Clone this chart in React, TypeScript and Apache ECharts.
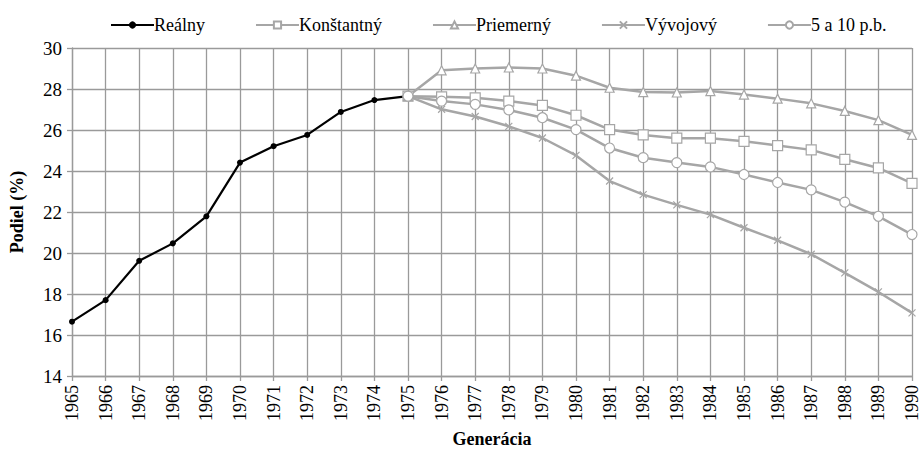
import React, { useEffect, useRef } from "react";
import * as echarts from "echarts";

const years = ["1965","1966","1967","1968","1969","1970","1971","1972","1973","1974","1975","1976","1977","1978","1979","1980","1981","1982","1983","1984","1985","1986","1987","1988","1989","1990"];

const realny = [16.65, 17.7, 19.62, 20.47, 21.79, 24.41, 25.21, 25.76, 26.88, 27.46, 27.65, null, null, null, null, null, null, null, null, null, null, null, null, null, null, null];
const konstantny = [null, null, null, null, null, null, null, null, null, null, 27.65, 27.62, 27.57, 27.41, 27.2, 26.72, 26.02, 25.76, 25.6, 25.6, 25.45, 25.24, 25.03, 24.57, 24.15, 23.4];
const priemerny = [null, null, null, null, null, null, null, null, null, null, 27.65, 28.91, 29.0, 29.05, 29.0, 28.65, 28.06, 27.85, 27.83, 27.9, 27.73, 27.53, 27.3, 26.93, 26.48, 25.76];
const vyvojovy = [null, null, null, null, null, null, null, null, null, null, 27.65, 27.01, 26.66, 26.18, 25.61, 24.76, 23.51, 22.85, 22.35, 21.87, 21.23, 20.62, 19.94, 19.03, 18.1, 17.08];
const pb510 = [null, null, null, null, null, null, null, null, null, null, 27.65, 27.41, 27.25, 26.98, 26.6, 26.02, 25.12, 24.65, 24.41, 24.2, 23.83, 23.44, 23.08, 22.48, 21.79, 20.9];

const seriesNames = ["Reálny", "Konštantný", "Priemerný", "Vývojový", "5 a 10 p.b."];

const FONT = "'Liberation Serif', 'Times New Roman', serif";
const GRAY = "#a6a6a6";
const GRID = "#9a9a9a";

export default function App() {
  const ref = useRef<HTMLDivElement>(null);
  useEffect(() => {
    document.body.style.margin = "0";
    if (!ref.current) return;
    const chart = echarts.init(ref.current, null, { renderer: "svg" });
    const graySeries = (name: string, data: (number | null)[], symbol: string, size: number) => ({
      name,
      type: "line",
      data,
      symbol,
      symbolSize: size,
      connectNulls: false,
      lineStyle: { color: GRAY, width: 2.5 },
      itemStyle: { color: "#ffffff", borderColor: GRAY, borderWidth: 1.2 },
      emphasis: { disabled: true },
    });
    chart.setOption({
      animation: false,
      backgroundColor: "#ffffff",
      textStyle: { fontFamily: FONT },
      legend: {
        top: 11,
        left: 105,
        itemWidth: 43,
        itemHeight: 9,
        itemGap: 50,
        textStyle: { fontFamily: FONT, fontSize: 18, color: "#000", padding: [0, 0, 0, -5] },
        data: seriesNames,
      },
      grid: { left: 72, right: 10, top: 48, bottom: 73, containLabel: false },
      xAxis: {
        type: "category",
        data: years,
        boundaryGap: false,
        name: "Generácia",
        nameLocation: "middle",
        nameGap: 54,
        nameTextStyle: { fontFamily: FONT, fontSize: 18, fontWeight: "bold", color: "#000" },
        axisLine: { lineStyle: { color: GRID, width: 1.3 } },
        axisTick: { show: true, length: 5, lineStyle: { color: GRID, width: 1.3 } },
        axisLabel: { rotate: 90, fontFamily: FONT, fontSize: 18, color: "#000", margin: 9, interval: 0 },
        splitLine: { show: true, lineStyle: { color: GRID, width: 1.3 } },
      },
      yAxis: {
        type: "value",
        min: 14,
        max: 30,
        interval: 2,
        name: "Podiel (%)",
        nameLocation: "middle",
        nameGap: 46,
        nameTextStyle: { fontFamily: FONT, fontSize: 18, fontWeight: "bold", color: "#000" },
        axisLine: { show: true, lineStyle: { color: GRID, width: 1.3 } },
        axisTick: { show: true, length: 5, lineStyle: { color: GRID, width: 1.3 } },
        axisLabel: { fontFamily: FONT, fontSize: 19, color: "#000", margin: 10 },
        splitLine: { show: true, lineStyle: { color: GRID, width: 1.3 } },
      },
      series: [
        {
          name: "Reálny",
          type: "line",
          data: realny,
          symbol: "circle",
          symbolSize: 6,
          lineStyle: { color: "#000", width: 2.2 },
          itemStyle: { color: "#000" },
          emphasis: { disabled: true },
          z: 3,
        },
        graySeries("Konštantný", konstantny, "rect", 10),
        graySeries("Priemerný", priemerny, "triangle", 9),
        {
          ...graySeries("Vývojový", vyvojovy, "path://M0 0L10 10M0 10L10 0", 7),
          itemStyle: { color: "none", borderColor: GRAY, borderWidth: 1.2 },
        },
        graySeries("5 a 10 p.b.", pb510, "circle", 10),
      ],
    });
    return () => chart.dispose();
  }, []);
  return <div ref={ref} style={{ width: 922, height: 453 }} />;
}
